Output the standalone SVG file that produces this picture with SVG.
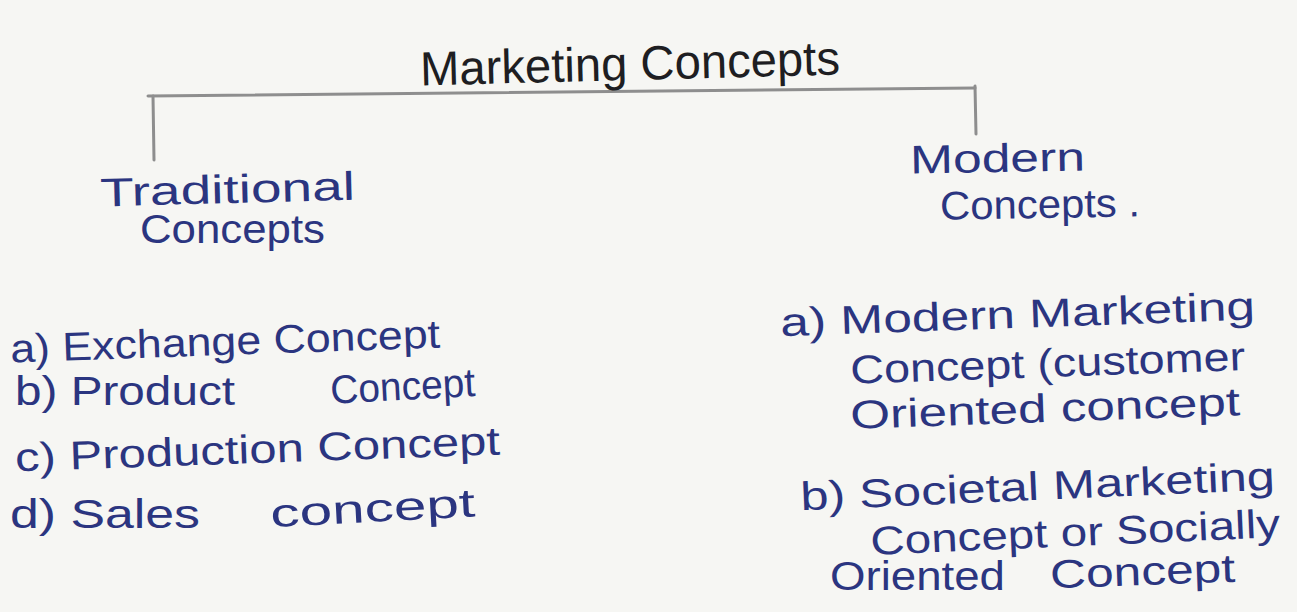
<svg xmlns="http://www.w3.org/2000/svg" width="1297" height="612" viewBox="0 0 1297 612">
<style>
.ink{font-family:"Liberation Sans","DejaVu Sans",sans-serif;fill:#2b3580;font-size:40px}
.title{font-family:"Liberation Sans","DejaVu Sans",sans-serif;fill:#1e1e22;font-size:48px}
.conn{stroke:#8e8e8e;stroke-width:3;fill:none;stroke-linecap:round}
</style>
<rect width="1297" height="612" fill="#f6f6f3"/>
<g id="connectors">
<path class="conn" d="M148,96 L975,88"/>
<path class="conn" d="M153,96 L154,160"/>
<path class="conn" d="M975,86 L976,134"/>
</g>
<g id="title">
<text class="title" x="420" y="80" textLength="420" lengthAdjust="spacingAndGlyphs" transform="rotate(-1.5 630 65)">Marketing Concepts</text>
</g>
<g id="traditional">
<text class="ink" x="100" y="203" textLength="255" lengthAdjust="spacingAndGlyphs" transform="rotate(-1.5 230 190)">Traditional</text>
<text class="ink" x="140" y="243" textLength="185" lengthAdjust="spacingAndGlyphs">Concepts</text>
</g>
<g id="modern">
<text class="ink" x="910" y="172" textLength="175" lengthAdjust="spacingAndGlyphs" transform="rotate(-1 1000 160)">Modern</text>
<text class="ink" x="940" y="218" textLength="200" lengthAdjust="spacingAndGlyphs" transform="rotate(-1 1040 205)">Concepts .</text>
</g>
<g id="traditional-list">
<text class="ink" x="10" y="355" textLength="430" lengthAdjust="spacingAndGlyphs" transform="rotate(-2 225 340)">a) Exchange Concept</text>
<text class="ink" x="15" y="405" textLength="220" lengthAdjust="spacingAndGlyphs">b) Product</text>
<text class="ink" x="330" y="400" textLength="145" lengthAdjust="spacingAndGlyphs" transform="rotate(-3 400 385)">Concept</text>
<text class="ink" x="15" y="463" textLength="485" lengthAdjust="spacingAndGlyphs" transform="rotate(-2 255 450)">c) Production Concept</text>
<text class="ink" x="10" y="528" textLength="190" lengthAdjust="spacingAndGlyphs">d) Sales</text>
<text class="ink" x="270" y="522" textLength="205" lengthAdjust="spacingAndGlyphs" transform="rotate(-3 370 505)">concept</text>
</g>
<g id="modern-list">
<text class="ink" x="780" y="328" textLength="475" lengthAdjust="spacingAndGlyphs" transform="rotate(-2 1015 310)">a) Modern Marketing</text>
<text class="ink" x="850" y="377" textLength="395" lengthAdjust="spacingAndGlyphs" transform="rotate(-2 1045 360)">Concept (customer</text>
<text class="ink" x="850" y="422" textLength="390" lengthAdjust="spacingAndGlyphs" transform="rotate(-2 1045 405)">Oriented concept</text>
<text class="ink" x="800" y="500" textLength="475" lengthAdjust="spacingAndGlyphs" transform="rotate(-2.5 1035 485)">b) Societal Marketing</text>
<text class="ink" x="870" y="546" textLength="410" lengthAdjust="spacingAndGlyphs" transform="rotate(-2.5 1075 530)">Concept or Socially</text>
<text class="ink" x="830" y="590" textLength="175" lengthAdjust="spacingAndGlyphs">Oriented</text>
<text class="ink" x="1050" y="585" textLength="185" lengthAdjust="spacingAndGlyphs" transform="rotate(-2 1140 570)">Concept</text>
</g>
</svg>
